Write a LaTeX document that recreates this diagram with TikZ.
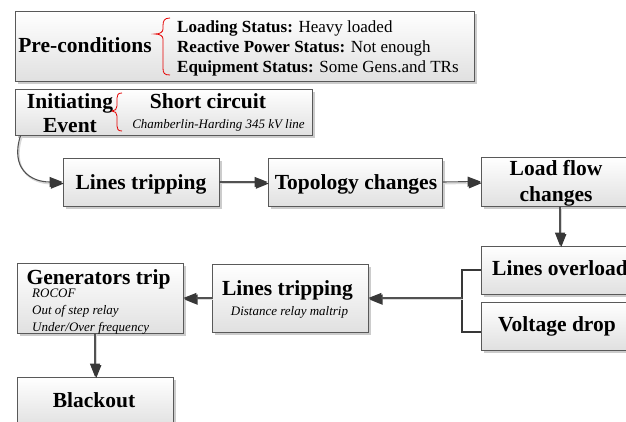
\documentclass[tikz,border=0pt]{standalone}
\usepackage{fontspec}
\setmainfont{Liberation Serif}
\usetikzlibrary{arrows.meta,shadows}

\begin{document}
\begin{tikzpicture}[x=1pt,y=-1pt,
  box/.style={rectangle, draw=black!65, line width=0.8pt, inner sep=0pt,
    top color=white, bottom color=black!12,
    drop shadow={shadow xshift=2.5pt, shadow yshift=-2.5pt, fill=black!20, opacity=1}},
  big/.style={font=\fontsize{21.5}{24}\selectfont\bfseries, inner sep=0pt, anchor=base},
  small/.style={font=\fontsize{13}{15}\selectfont\itshape, inner sep=0pt, anchor=base},
  smallleft/.style={small, anchor=base west},
  status/.style={font=\fontsize{17}{20}\selectfont, inner sep=0pt, anchor=base west},
  conn/.style={draw=black!68, line width=1.1pt,
    -{Triangle[length=13pt,width=10pt,color=black!78]},
    preaction={draw=black!15, line width=1.6pt,
      transform canvas={shift={(1.2pt,-1.6pt)}}}},
  bracket/.style={draw=black!78, line width=1.8pt},
  brace/.style={draw=red!90!black, line width=0.8pt},
]
\useasboundingbox (0,0) rectangle (626,421);
\clip (0,0) rectangle (626,421);

% ---- boxes ----
\node[box, minimum width=459pt, minimum height=70pt] (pre) at (244.5,46) {};
\node[box, minimum width=297pt, minimum height=46pt] (ie)  at (163.5,112) {};
\node[box, minimum width=156pt, minimum height=48pt] (lt1) at (141,182) {};
\node[box, minimum width=174pt, minimum height=48pt] (topo) at (355,182) {};
\node[box, minimum width=158pt, minimum height=49pt] (lfc) at (560,181.5) {};
\node[box, minimum width=158pt, minimum height=48pt] (lo)  at (560,270) {};
\node[box, minimum width=158pt, minimum height=48pt] (vd)  at (560,326) {};
\node[box, minimum width=156pt, minimum height=68pt] (lt2) at (290,298) {};
\node[box, minimum width=166pt, minimum height=70pt] (gen) at (100,298) {};
\node[box, minimum width=156pt, minimum height=50pt] (blk) at (95,402) {};

% ---- pre-conditions ----
\node[big] (pret) at (85,52) {Pre-conditions};
\draw[brace] (170,18) .. controls (164,18) and (163,21) .. (163,26) -- (163,29)
  .. controls (163,32) and (160,34) .. (155,34)
  .. controls (160,34) and (163,36) .. (163,39) -- (163,68)
  .. controls (163,73) and (164,75) .. (170,75);
\node[status] (ls) at (177,32) {\textbf{Loading Status:} Heavy loaded};
\node[status] (rs) at (177,52) {\textbf{Reactive Power Status:} Not enough};
\node[status] (es) at (177,72) {\textbf{Equipment Status:} Some Gens.and TRs};

% ---- initiating event ----
\node[big] (iet1) at (70,108) {Initiating};
\node[big] (iet2) at (70,132) {Event};
\draw[brace] (122,93) .. controls (118,93) and (117,95) .. (117,98) -- (117,106)
  .. controls (117,109) and (115,111) .. (112,111)
  .. controls (115,111) and (117,113) .. (117,116) -- (117,126)
  .. controls (117,129) and (118,131) .. (122,131);
\node[big] (sc) at (208,108) {Short circuit};
\node[small] (ch) at (218.5,128) {Chamberlin-Harding 345 kV line};

% ---- first row ----
\node[big] (lt1t) at (141,189) {Lines tripping};
\node[big] (topot) at (356,189) {Topology changes};
\node[big] (lfct1) at (556,175) {Load flow};
\node[big] (lfct2) at (556,201) {changes};

% ---- right column ----
\node[big] (lot) at (560,275) {Lines overload};
\node[big] (vdt) at (557,331) {Voltage drop};

% ---- second row ----
\node[big] (lt2t) at (287.5,295) {Lines tripping};
\node[small] (lt2s) at (289.5,315.5) {Distance relay maltrip};
\node[big] (gent) at (98.5,284) {Generators trip};
\node[smallleft] (g1) at (32,297) {ROCOF};
\node[smallleft] (g2) at (32,314) {Out of step relay};
\node[smallleft] (g3) at (32,331) {Under/Over frequency};
\node[big] (blkt) at (94,407) {Blackout};

% ---- connectors ----
\coordinate (iestart) at ([xshift=6pt]ie.south west);
\draw[conn] (iestart) .. controls (10,168) and (30,182) .. (lt1.west);
\draw[conn] (lt1.east) -- (topo.west);
\draw[conn] (topo.east) -- (lfc.west);
\draw[conn] (lfc.south) -- (lo.north);
\coordinate (bj) at (462,298);
\draw[bracket] (lo.west) -| (bj |- lo.west) |- ([yshift=-6pt]vd.west);
\draw[conn] (bj) -- (lt2.east);
\draw[conn] (lt2.west) -- (gen.east);
\draw[conn] (gen.south -| blk.north) -- (blk.north);
\end{tikzpicture}
\end{document}
